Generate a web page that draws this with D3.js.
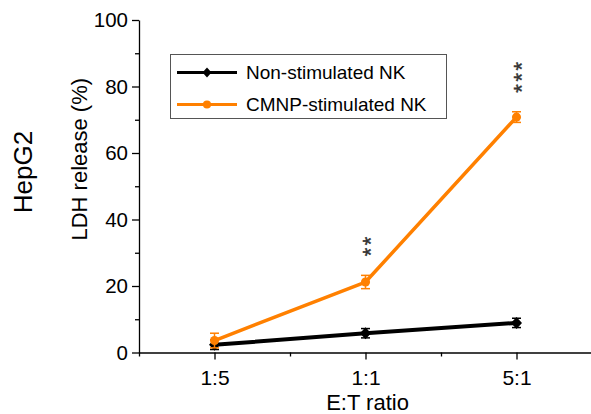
<!DOCTYPE html>
<html><head><meta charset="utf-8">
<script src="https://cdn.jsdelivr.net/npm/d3@7"></script>
<style>body{margin:0;background:#fff}svg{display:block}text{font-family:Arial,"Liberation Sans",sans-serif}</style>
</head><body>
<script>
const categories = ["1:5", "1:1", "5:1"];
const seriesNames = ["Non-stimulated NK", "CMNP-stimulated NK"];
const nonStim = [2.3, 5.8, 8.9];
const nonStimErr = [1.4, 1.4, 1.4];
const cmnpStim = [3.6, 21.2, 70.8];
const cmnpStimErr = [2.2, 2.0, 1.6];
const significance = ["", "**", "***"];
const yTicks = [0, 20, 40, 60, 80, 100];
const yMinorTicks = [10, 30, 50, 70, 90];

const W = 591, H = 414;
const svg = d3.select("body").append("svg").attr("width", W).attr("height", H);

const x = d3.scaleLinear().domain([0.5, 3.5]).range([139, 592]);
const y = d3.scaleLinear().domain([0, 100]).range([352.5, 20]);
const black = "#000", orange = "#ff8000";

// axes
const gx = svg.append("g").attr("transform", `translate(0,${y(0)})`);
gx.call(d3.axisBottom(x).tickValues([1, 2, 3]).tickFormat((d, i) => categories[i]).tickSize(7).tickSizeOuter(0));
gx.append("g").call(d3.axisBottom(x).tickValues([0.5, 1.5, 2.5]).tickFormat("").tickSize(4).tickSizeOuter(0)).select(".domain").remove();
gx.selectAll("text").attr("font-size", 21).attr("fill", "#000").attr("dy", "1.05em").attr("font-family", "Arial, 'Liberation Sans', sans-serif");

const gy = svg.append("g").attr("transform", `translate(${x(0.5)},0)`);
gy.call(d3.axisLeft(y).tickValues(yTicks).tickSize(7).tickSizeOuter(0).tickPadding(4));
gy.append("g").call(d3.axisLeft(y).tickValues(yMinorTicks).tickFormat("").tickSize(4).tickSizeOuter(0)).select(".domain").remove();
gy.selectAll("text").attr("font-size", 20.5).attr("fill", "#000").attr("font-family", "Arial, 'Liberation Sans', sans-serif");
svg.selectAll(".domain, .tick line").attr("stroke", "#000").attr("stroke-width", 1.3);

// axis labels
svg.append("text").attr("transform", `translate(87,${(y(0)+y(100))/2 - 27}) rotate(-90)`)
  .attr("text-anchor", "middle").attr("font-size", 22).text("LDH release (%)");
svg.append("text").attr("transform", "translate(32,172) rotate(-90)")
  .attr("text-anchor", "middle").attr("font-size", 26).text("HepG2");
svg.append("text").attr("x", (x(0.5) + x(3.5)) / 2 + 2).attr("y", 410)
  .attr("text-anchor", "middle").attr("font-size", 22).text("E:T ratio");

// series
const series = [
  {name: seriesNames[0], vals: nonStim, err: nonStimErr, color: black, lw: 4, marker: "diamond"},
  {name: seriesNames[1], vals: cmnpStim, err: cmnpStimErr, color: orange, lw: 3.5, marker: "circle"}
];
const line = d3.line().x((d, i) => x(i + 1)).y(d => y(d));
function drawMarker(g, type, cx, cy, color, s) {
  if (type === "diamond") {
    const hw = s / 2, hh = s / 2 + 0.5;
    g.append("path").attr("d", `M0,${-hh}L${hw},0L0,${hh}L${-hw},0Z`).attr("transform", `translate(${cx},${cy})`).attr("fill", color);
  } else {
    g.append("circle").attr("cx", cx).attr("cy", cy).attr("r", s / 2.2).attr("fill", color);
  }
}
series.forEach(s => {
  const g = svg.append("g");
  g.append("path").datum(s.vals).attr("d", line).attr("fill", "none").attr("stroke", s.color).attr("stroke-width", s.lw).attr("stroke-linejoin", "round");
  s.vals.forEach((v, i) => {
    const cx = x(i + 1);
    g.append("line").attr("x1", cx).attr("x2", cx).attr("y1", y(v - s.err[i])).attr("y2", y(v + s.err[i])).attr("stroke", s.color).attr("stroke-width", 1.5);
    [v - s.err[i], v + s.err[i]].forEach(e => g.append("line").attr("x1", cx - 4.5).attr("x2", cx + 4.5).attr("y1", y(e)).attr("y2", y(e)).attr("stroke", s.color).attr("stroke-width", 1.5));
    drawMarker(g, s.marker, cx, y(v), s.color, s.marker === "diamond" ? 11 : 10);
  });
});

// significance marks (stacked asterisks, rotated text)
const fsA = 22;
significance.forEach((sig, i) => {
  if (!sig) return;
  const top = y(cmnpStim[i] + cmnpStimErr[i]);
  svg.append("text")
    .attr("transform", `translate(${x(i + 1) + 0.57 * fsA},${top - 19}) rotate(-90)`)
    .attr("font-size", fsA).attr("letter-spacing", 2.6).attr("fill", "#333")
    .attr("stroke", "#333").attr("stroke-width", 0.4)
    .text(sig);
});

// legend
const lg = svg.append("g");
lg.append("rect").attr("x", 170.5).attr("y", 54.5).attr("width", 276).attr("height", 64).attr("fill", "#fff").attr("stroke", "#555").attr("stroke-width", 1);
series.forEach((s, i) => {
  const ly = 72.5 + i * 32;
  lg.append("line").attr("x1", 177).attr("x2", 237).attr("y1", ly).attr("y2", ly).attr("stroke", s.color).attr("stroke-width", 3);
  drawMarker(lg, s.marker, 207, ly, s.color, 9);
  lg.append("text").attr("x", 246).attr("y", ly + 6.8).attr("font-size", 19).text(s.name);
});
</script>
</body></html>
